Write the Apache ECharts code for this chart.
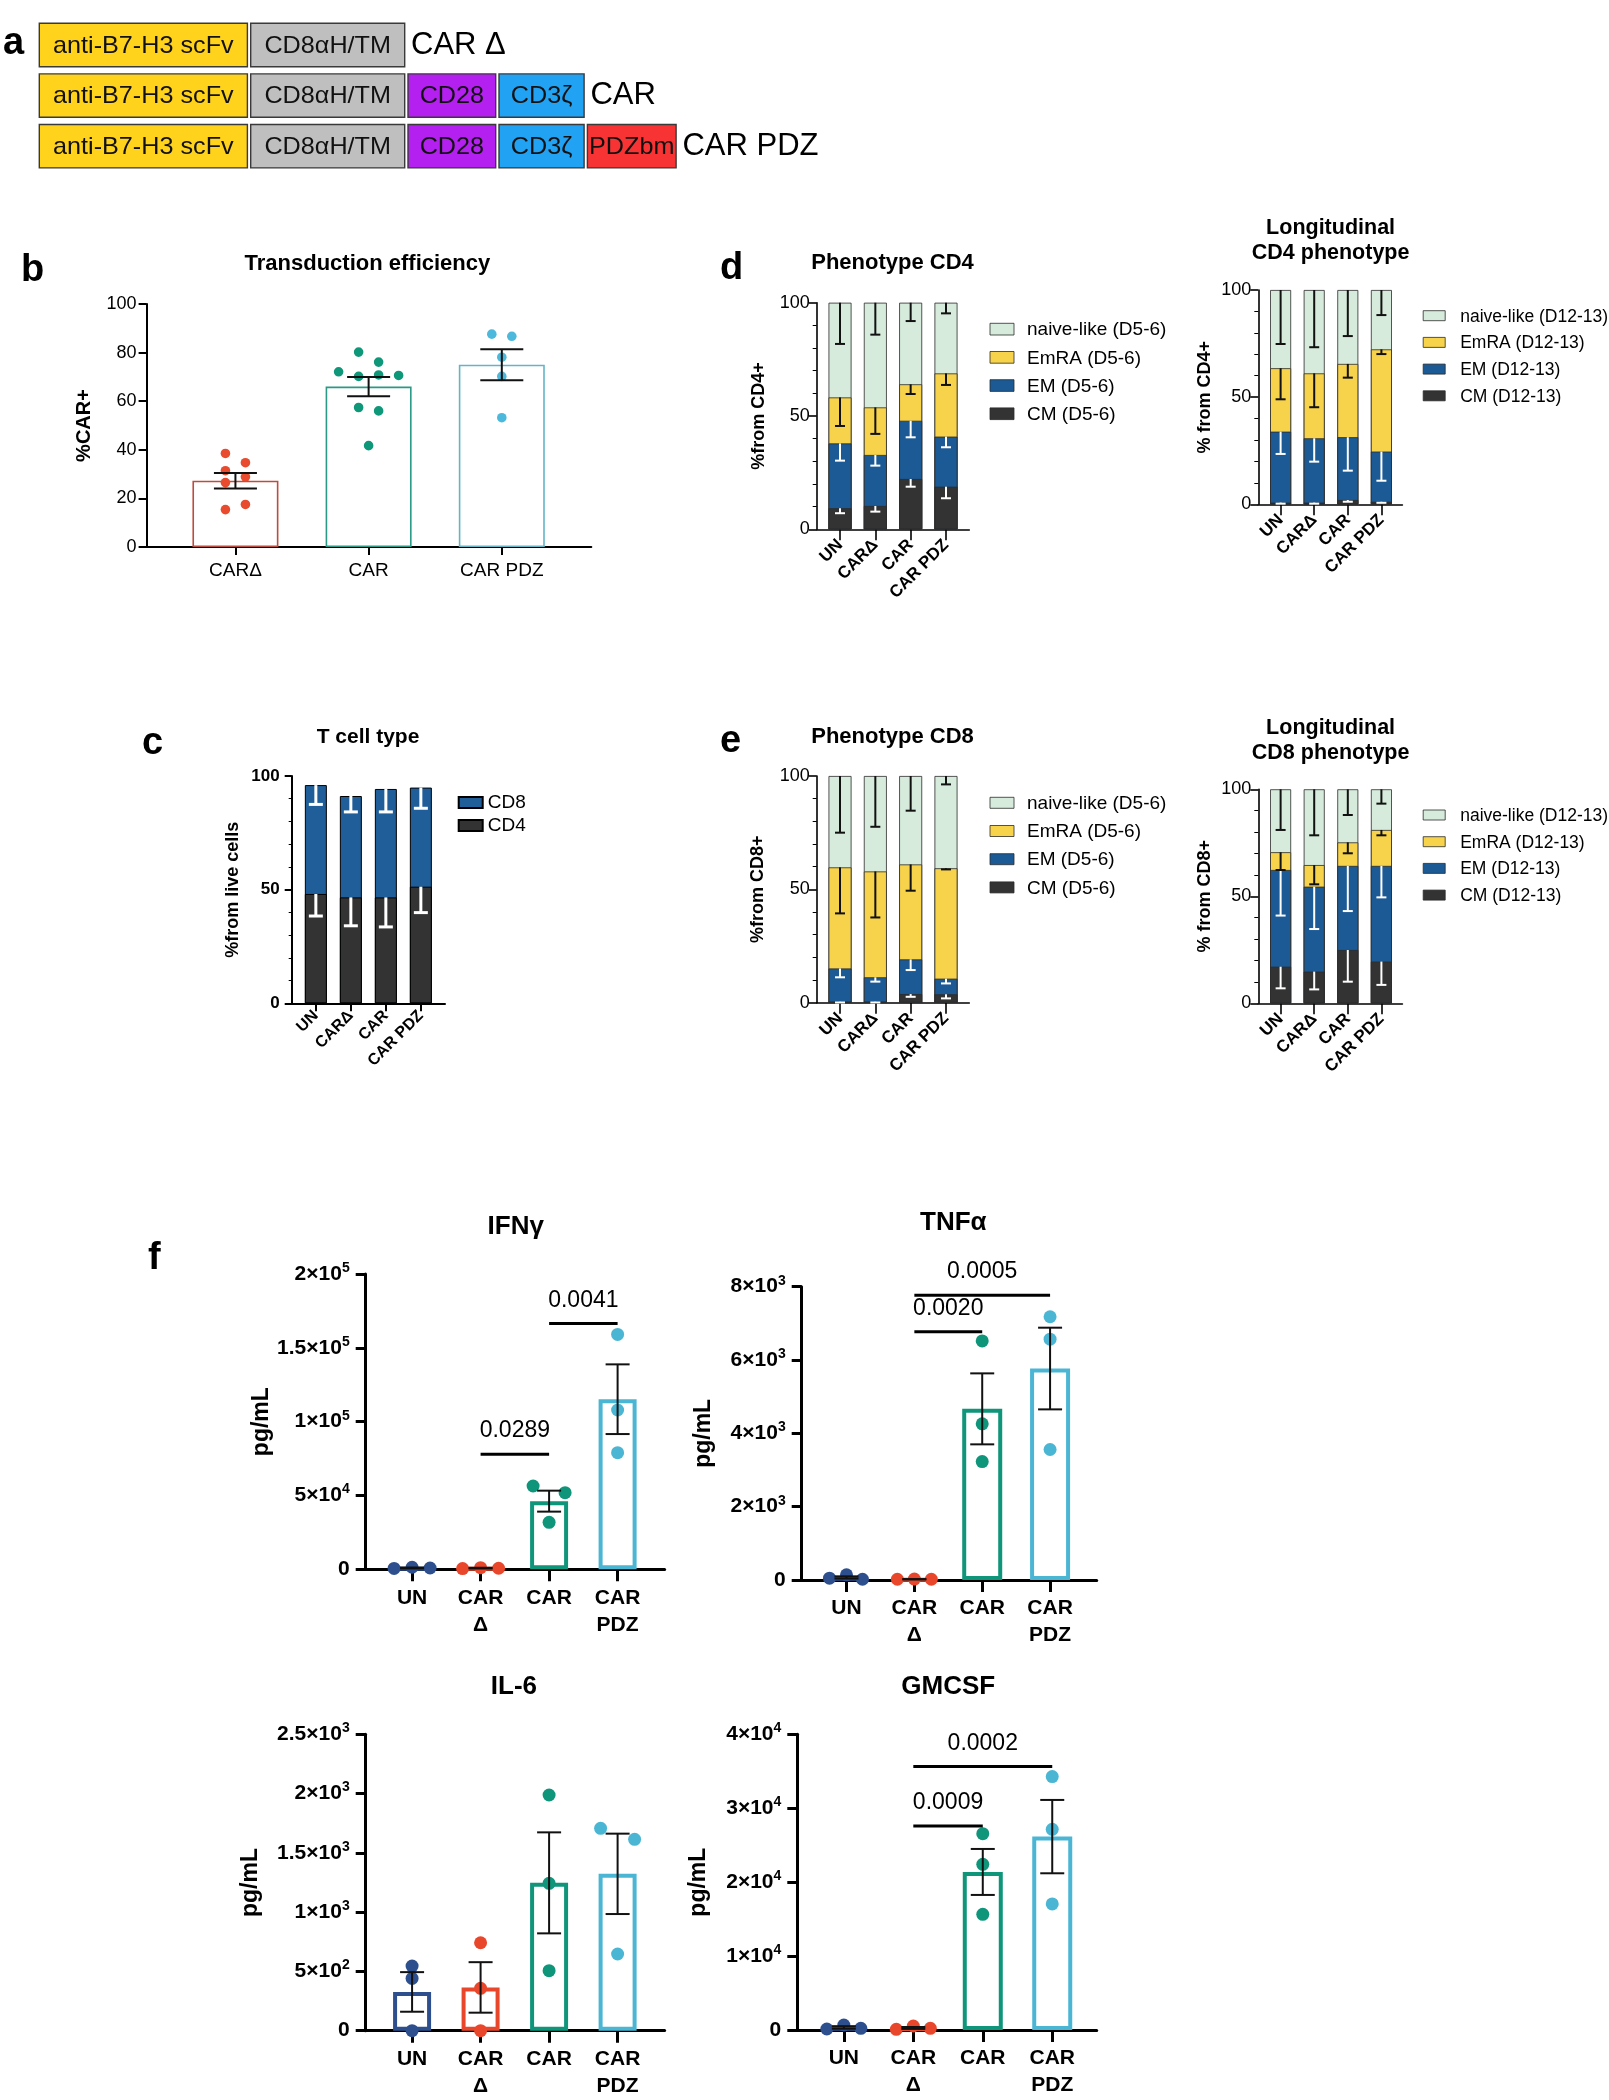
<!DOCTYPE html>
<html>
<head>
<meta charset="utf-8">
<title>B7-H3 CAR T cells</title>
<script src="https://cdn.jsdelivr.net/npm/echarts@6/dist/echarts.min.js"></script>
<style>
  html, body { margin: 0; padding: 0; background: #fff; }
  #main { width: 1609px; height: 2100px; }
</style>
</head>
<body>
<div id="main"></div>
<script>
// ---- a: construct schematic
const constructNames = ['CAR Δ', 'CAR', 'CAR PDZ']
const domainNames = ['anti-B7-H3 scFv', 'CD8αH/TM', 'CD28', 'CD3ζ', 'PDZbm']
const domainLengths = [211.4, 157.3, 91, 88.4, 92]
const domainsPerConstruct = [2, 4, 5]

// ---- b: transduction efficiency (%CAR+)
const catsB = ['CARΔ', 'CAR', 'CAR PDZ']
const meanB = [27.3, 66.0, 75.0]
const semB = [3.2, 4.0, 6.4]
const pointsB = [
  [38.5, 34.7, 31.4, 28.9, 26.5, 17.5, 15.4],
  [80.2, 76.1, 72.1, 70.2, 70.8, 70.6, 57.4, 56.0, 41.7],
  [87.6, 86.7, 78.1, 70.2, 53.2]
]
const jitterB = [
  [-10, 10, -10, 10, -10, 10, -10],
  [-10, 10, -30, -10, 10, 30, -10, 10, 0],
  [-10, 10, 0, 0, 0]
]

// ---- c: T cell type
const catsT = ['UN', 'CARΔ', 'CAR', 'CAR PDZ']
const cd4C = [48.1, 46.6, 46.6, 51.3]
const cd8C = [47.9, 44.6, 47.7, 43.6]
const cd4ErrC = [9.7, 12.5, 13.0, 11.4]
const cd8ErrC = [8.5, 7.0, 10.1, 9.1]

// ---- d/e: phenotypes, segments bottom->top: CM, EM, EmRA, naive-like
const cmD1 = [9.3, 10.3, 22.2, 18.8]
const emD1 = [28.6, 22.5, 25.7, 22.1]
const emraD1 = [20.3, 21.0, 16.1, 27.9]
const naiveD1 = [41.8, 46.2, 36.0, 31.2]
const errD1 = [[2.2, 2.5, 3.4, 5.1], [7.6, 4.7, 7.3, 4.7], [12.6, 11.7, 4.3, 5.1], [18.2, 14.1, 8.1, 4.7]]

const cmD2 = [0.8, 0.8, 2.0, 1.2]
const emD2 = [33.1, 30.0, 29.3, 23.4]
const emraD2 = [29.6, 30.3, 34.2, 47.7]
const naiveD2 = [36.5, 38.9, 34.5, 27.7]
const errD2 = [[0.5, 0.5, 0.8, 0.5], [10.4, 10.9, 15.6, 13.6], [14.5, 15.8, 6.4, 2.2], [25.2, 26.7, 21.5, 11.7]]

const cmE1 = [0.4, 0.4, 3.8, 3.7]
const emE1 = [14.7, 10.8, 15.3, 6.9]
const emraE1 = [44.6, 46.7, 41.9, 48.7]
const naiveE1 = [40.3, 42.1, 39.0, 40.7]
const errE1 = [[0.3, 0.3, 1.2, 1.8], [3.9, 1.9, 4.7, 2.1], [20.3, 20.3, 11.6, 0.5], [25.0, 22.4, 15.3, 3.7]]

const cmE2 = [17.1, 14.8, 24.9, 19.5]
const emE2 = [45.2, 39.7, 39.3, 44.7]
const emraE2 = [8.3, 10.1, 11.0, 16.8]
const naiveE2 = [29.4, 35.4, 24.8, 19.0]
const errE2 = [[10.1, 8.3, 14.8, 10.9], [21.3, 19.8, 21.1, 14.7], [8.3, 9.0, 5.1, 2.5], [19.0, 21.5, 12.0, 6.7]]

// ---- f: cytokines (pg/mL)
const catsF = ['UN', 'CAR\nΔ', 'CAR', 'CAR\nPDZ']

const meanIFN = [900, 800, 46160, 115200]
const semIFN = [300, 250, 7100, 23600]
const pointsIFN = [[600, 1400, 900], [500, 1100, 700], [56400, 51900, 31800], [159100, 107900, 79000]]
const jitterIFN = [[-18, 0, 18], [-18, 0, 18], [-16, 16, 0], [0, 0, 0]]
const sigIFN = [[1, 2, 78000], [2, 3, 166500]]
const sigLabelsIFN = ['0.0289', '0.0041']

const meanTNF = [70, 20, 4668, 5768]
const semTNF = [30, 5, 968, 1114]
const pointsTNF = [[50, 140, 20], [20, 25, 20], [6520, 4260, 3230], [7180, 6570, 3560]]
const jitterTNF = [[-17, 0, 16], [-17, 0, 17], [0, 0, 0], [0, 0, 0]]
const sigTNF = [[1, 2, 6770], [1, 3, 7770]]
const sigLabelsTNF = ['0.0020', '0.0005']

const meanIL6 = [327, 365, 1247, 1323]
const semIL6 = [167, 213, 426, 339]
const pointsIL6 = [[545, 441, 0], [742, 357, 0], [1988, 1243, 506], [1707, 1614, 647]]
const jitterIL6 = [[0, 0, 0], [0, 0, 0], [0, 0, 0], [-17, 17, 0]]

const meanGM = [350, 280, 21380, 26160]
const semGM = [170, 130, 3110, 4960]
const pointsGM = [[135, 680, 225], [90, 540, 225], [26560, 22410, 15650], [34280, 27150, 17050]]
const jitterGM = [[-17, 0, 17], [-17, 0, 17], [0, 0, 0], [0, 0, 0]]
const sigGM = [[1, 2, 27600], [1, 3, 35630]]
const sigLabelsGM = ['0.0009', '0.0002']

// ---- styles
const FONT = '"Liberation Sans", Arial, Helvetica, sans-serif'
const domainColors = ['#ffd21c', '#bfbfbf', '#b420f0', '#22a2f2', '#f73333']
const barLineB = ['#bf4a3e', '#2a9a86', '#63b5c6']
const dotB = ['#e84b2e', '#0f977a', '#4cb9dc']
const groupF = ['#2d4f8e', '#e9472c', '#0f957a', '#4ab6d4']
const phenoColors = ['#333333', '#1c5a95', '#f7d24b', '#d6ebdb']
const phenoErrColors = ['#fff', '#fff', '#111', '#111']

const grids = [], xAxes = [], yAxes = [], series = [], legends = [], texts = []

function panel(o) {
  const gi = grids.length
  const idx = o.cats.map((c, i) => i)
  const line = { color: '#000', width: o.lw }
  grids.push({ left: o.left, top: o.top, width: o.right - o.left, height: o.bottom - o.top })
  xAxes.push({
    type: 'value', gridIndex: gi, min: o.xMin, max: o.xMax,
    splitLine: { show: false },
    axisLine: { show: true, onZero: false, lineStyle: line },
    axisTick: { show: true, customValues: idx, length: o.xTick, lineStyle: line },
    axisLabel: Object.assign({
      customValues: idx, formatter: v => o.cats[Math.round(v)],
      rotate: o.rotate || 0, margin: o.xMargin, color: '#000'
    }, o.xLabel)
  })
  yAxes.push({
    type: 'value', gridIndex: gi, min: 0, max: o.yMax, interval: o.yInterval,
    splitLine: { show: false },
    axisLine: { show: true, onZero: false, lineStyle: line },
    axisTick: { show: true, length: o.yTick, lineStyle: line },
    minorTick: { show: !!o.minor, splitNumber: o.minor || 5, length: o.minorLen || 3, lineStyle: { color: '#000', width: 1 } },
    axisLabel: Object.assign({ margin: o.yMargin, color: '#000' }, o.yLabel),
    name: o.name, nameLocation: 'middle', nameRotate: 90, nameGap: o.nameGap,
    nameTextStyle: Object.assign({ color: '#000' }, o.nameStyle)
  })
  return gi
}

function errRender(color, lw, cap) {
  return function (params, api) {
    const x = api.value(0)
    const lo = api.coord([x, api.value(1)])
    const hi = api.coord([x, api.value(2)])
    const style = { stroke: color, lineWidth: lw }
    const kids = [
      { type: 'line', shape: { x1: lo[0], y1: lo[1], x2: hi[0], y2: hi[1] }, style },
      { type: 'line', shape: { x1: lo[0] - cap / 2, y1: lo[1], x2: lo[0] + cap / 2, y2: lo[1] }, style }
    ]
    if (api.value(3) === 1) {
      kids.push({ type: 'line', shape: { x1: hi[0] - cap / 2, y1: hi[1], x2: hi[0] + cap / 2, y2: hi[1] }, style })
    }
    return { type: 'group', children: kids }
  }
}

function dotRender(color, r) {
  return function (params, api) {
    const p = api.coord([api.value(0), api.value(1)])
    return { type: 'circle', shape: { cx: p[0] + api.value(2), cy: p[1], r: r }, style: { fill: color } }
  }
}

function sigRender(labels) {
  return function (params, api) {
    const a = api.coord([api.value(0), api.value(2)])
    const b = api.coord([api.value(1), api.value(2)])
    return {
      type: 'group', children: [
        { type: 'line', shape: { x1: a[0], y1: a[1], x2: b[0], y2: b[1] }, style: { stroke: '#000', lineWidth: 3 } },
        { type: 'text', x: (a[0] + b[0]) / 2, y: a[1] - 23,
          style: { text: labels[params.dataIndex], fill: '#000', fontSize: 23, fontFamily: FONT, align: 'center', verticalAlign: 'middle' } }
      ]
    }
  }
}

function custom(gi, renderItem, data, z) {
  series.push({
    type: 'custom', xAxisIndex: gi, yAxisIndex: gi, renderItem, data,
    encode: { x: 0, y: 1 }, clip: false, silent: true, z: z || 5
  })
}

function symErrData(mean, sem) {
  return mean.map((m, i) => [i, m - sem[i], m + sem[i], 1])
}

function label(text, x, y, size, weight, align, base) {
  texts.push({ type: 'text', x: x, y: y, silent: true,
    style: { text: text, fill: '#000', fontSize: size, fontWeight: weight, fontFamily: FONT,
      align: align || 'center', verticalAlign: base || 'middle' } })
}

// ---------- a
{
  const gi = grids.length
  grids.push({ left: 39.3, top: 19.7, width: 700, height: 151.8 })
  xAxes.push({ type: 'value', gridIndex: gi, min: 0, max: 700, show: false })
  yAxes.push({ type: 'category', gridIndex: gi, data: constructNames, inverse: true, show: false })
  series.push({
    type: 'custom', xAxisIndex: gi, yAxisIndex: gi, clip: false, silent: true,
    data: constructNames.map((n, i) => [0, i]), encode: { x: 0, y: 1 },
    renderItem: function (params, api) {
      const row = params.dataIndex
      const h = api.size([0, 1])[1] * 0.857
      const kids = []
      let start = 0, endPx = 0, cy = 0
      for (let k = 0; k < domainsPerConstruct[row]; k++) {
        const p0 = api.coord([start, row])
        const p1 = api.coord([start + domainLengths[k], row])
        const w = p1[0] - p0[0] - 3.3
        cy = p0[1]
        kids.push({ type: 'rect', shape: { x: p0[0], y: cy - h / 2, width: w, height: h },
          style: { fill: domainColors[k], stroke: '#3a3a3a', lineWidth: 1.4 } })
        kids.push({ type: 'text', x: p0[0] + w / 2, y: cy + 1, scaleX: 1.05,
          style: { text: domainNames[k], fill: '#111', fontSize: 24, fontFamily: FONT, align: 'center', verticalAlign: 'middle' } })
        start += domainLengths[k]
        endPx = p1[0]
      }
      kids.push({ type: 'text', x: endPx + 3, y: cy,
        style: { text: constructNames[row], fill: '#000', fontSize: 31, fontFamily: FONT, align: 'left', verticalAlign: 'middle' } })
      return { type: 'group', children: kids }
    }
  })
}

// ---------- b
{
  const gi = panel({
    left: 146.6, right: 591.3, top: 304, bottom: 547, xMin: -0.667, xMax: 2.672, cats: catsB,
    yMax: 100, yInterval: 20, lw: 2, xTick: 8, yTick: 8, xMargin: 14, yMargin: 10,
    xLabel: { fontSize: 19, fontFamily: FONT }, yLabel: { fontSize: 18, fontFamily: FONT },
    name: '%CAR+', nameGap: 52, nameStyle: { fontSize: 20, fontWeight: 'bold', fontFamily: FONT }
  })
  series.push({
    type: 'bar', xAxisIndex: gi, yAxisIndex: gi, barWidth: 86, silent: true, z: 2,
    data: meanB.map((v, i) => ({ value: [i, v], itemStyle: { borderColor: barLineB[i] } })),
    itemStyle: { color: '#fff', borderWidth: 1.6 }
  })
  pointsB.forEach((g, i) => custom(gi, dotRender(dotB[i], 4.8), g.map((v, k) => [i, v, jitterB[i][k]]), 4))
  custom(gi, errRender('#111', 2, 43), symErrData(meanB, semB), 6)
}

// stacked bars drawn as overlapping cumulative columns, top segment first
function stackedColumns(gi, segs, names, colors, barW, border) {
  const cum = []
  segs.forEach((seg, k) => cum.push(seg.map((v, i) => v + (k ? cum[k - 1][i] : 0))))
  for (let k = segs.length - 1; k >= 0; k--) {
    series.push({
      type: 'bar', name: names[k], xAxisIndex: gi, yAxisIndex: gi, barWidth: barW, barGap: '-100%', silent: true, z: 2,
      data: cum[k].map((v, i) => [i, v]),
      itemStyle: Object.assign({ color: colors[k] }, border)
    })
  }
  return cum
}

// ---------- c
{
  const gi = panel({
    left: 291.7, right: 445, top: 776, bottom: 1003.3, xMin: -0.69, xMax: 3.69, cats: catsT,
    yMax: 100, yInterval: 50, minor: 5, minorLen: 3, lw: 2, xTick: 8, yTick: 7, xMargin: 10, yMargin: 12, rotate: 45,
    xLabel: { fontSize: 16, fontWeight: 'bold', fontFamily: FONT },
    yLabel: { fontSize: 17, fontWeight: 'bold', fontFamily: FONT },
    name: '%from live cells', nameGap: 50, nameStyle: { fontSize: 18, fontWeight: 'bold', fontFamily: FONT }
  })
  const cum = stackedColumns(gi, [cd4C, cd8C], ['CD4', 'CD8'], ['#333333', '#1f5e98'], 22, { borderColor: '#000', borderWidth: 1 })
  custom(gi, errRender('#fff', 3, 14), cum[0].map((v, i) => [i, v - cd4ErrC[i], v, 0]))
  custom(gi, errRender('#fff', 3, 14), cum[1].map((v, i) => [i, v - cd8ErrC[i], v, 0]))
  legends.push({
    data: ['CD8', 'CD4'], orient: 'vertical', left: 452.7, top: 788, itemWidth: 24, itemHeight: 11, itemGap: 4,
    icon: 'rect', selectedMode: false, textStyle: { fontSize: 19, fontFamily: FONT, color: '#000' }
  })
}

// ---------- d / e
function phenoPanel(o, segs, errs, tag, leg) {
  const gi = panel(Object.assign({
    cats: catsT, yMax: 100, yInterval: 50, minor: 5, minorLen: 4, lw: 1.6, xTick: 11, yTick: 8,
    xMargin: 13, yMargin: 7, rotate: 45,
    xLabel: { fontSize: 17, fontWeight: 'bold', fontFamily: FONT },
    yLabel: { fontSize: 18, fontFamily: FONT },
    nameStyle: { fontSize: 18, fontWeight: 'bold', fontFamily: FONT }
  }, o))
  const names = ['CM (' + tag + ')', 'EM (' + tag + ')', 'EmRA (' + tag + ')', 'naive-like (' + tag + ')']
  const cum = stackedColumns(gi, segs, names, phenoColors, o.barW, { borderColor: '#2b2b2b', borderWidth: 0.8 })
  cum.forEach((top, k) => custom(gi, errRender(phenoErrColors[k], 2, 10), top.map((v, i) => [i, v - errs[k][i], v, 0])))
  // legend, top entry = top segment
  for (let k = 3; k >= 0; k--) {
    const y = leg.top + (3 - k) * leg.step
    texts.push({ type: 'rect', silent: true, shape: { x: leg.left, y: y, width: leg.w, height: leg.h },
      style: { fill: phenoColors[k], stroke: '#2b2b2b', lineWidth: 0.8 } })
    label(names[k], leg.left + leg.w + leg.gap, y + leg.h / 2 + 1, leg.font, 'normal', 'left')
  }
}

phenoPanel({ left: 816.7, right: 969.3, top: 302.7, bottom: 529.3, xMin: -0.66, xMax: 3.66, barW: 23, name: '%from CD4+', nameGap: 49 },
  [cmD1, emD1, emraD1, naiveD1], errD1, 'D5-6', { left: 990, top: 323.3, w: 24, h: 11.7, step: 28.2, gap: 13, font: 19 })
phenoPanel({ left: 1258.3, right: 1402.4, top: 290, bottom: 504.3, xMin: -0.664, xMax: 3.625, barW: 21, name: '% from CD4+', nameGap: 44 },
  [cmD2, emD2, emraD2, naiveD2], errD2, 'D12-13', { left: 1423.2, top: 310.7, w: 22, h: 10, step: 26.7, gap: 15, font: 17.5 })
phenoPanel({ left: 816.7, right: 969.3, top: 776, bottom: 1002.7, xMin: -0.66, xMax: 3.66, barW: 23, name: '%from CD8+', nameGap: 50 },
  [cmE1, emE1, emraE1, naiveE1], errE1, 'D5-6', { left: 990, top: 797.3, w: 24, h: 11, step: 28.2, gap: 13, font: 19 })
phenoPanel({ left: 1258.3, right: 1402.4, top: 789.3, bottom: 1003.3, xMin: -0.664, xMax: 3.625, barW: 21, name: '% from CD8+', nameGap: 44 },
  [cmE2, emE2, emraE2, naiveE2], errE2, 'D12-13', { left: 1423.2, top: 810, w: 22, h: 10, step: 26.7, gap: 15, font: 17.5 })

// ---------- f
function sciLabel(v) {
  if (v === 0) return '{b|0}'
  const e = Math.floor(Math.log10(v) + 1e-9)
  const m = +(v / Math.pow(10, e)).toFixed(2)
  return '{b|' + m + '×10}{s|' + e + '}'
}

function cytokinePanel(o, mean, sem, points, jitter, sig, sigLabels) {
  const gi = panel(Object.assign({
    cats: catsF, lw: 3, xTick: 12, yTick: 10, xMargin: 15, yMargin: 16,
    xLabel: { fontSize: 21, fontWeight: 'bold', fontFamily: FONT, lineHeight: 27 },
    yLabel: {
      formatter: sciLabel,
      rich: {
        b: { fontSize: 21, fontWeight: 'bold', fontFamily: FONT, color: '#000', lineHeight: 26 },
        s: { fontSize: 14, fontWeight: 'bold', fontFamily: FONT, color: '#000', verticalAlign: 'top', lineHeight: 26 }
      }
    },
    name: 'pg/mL', nameStyle: { fontSize: 23, fontWeight: 'bold', fontFamily: FONT }
  }, o))
  series.push({
    type: 'bar', xAxisIndex: gi, yAxisIndex: gi, barWidth: o.barW, silent: true, z: 2,
    data: mean.map((v, i) => ({ value: [i, v], itemStyle: { borderColor: groupF[i] } })),
    itemStyle: { color: '#fff', borderWidth: 4 }
  })
  points.forEach((g, i) => custom(gi, dotRender(groupF[i], 6.5), g.map((v, k) => [i, v, jitter[i][k]]), 4))
  custom(gi, errRender('#111', 2, 24), symErrData(mean, sem), 6)
  if (sig) custom(gi, sigRender(sigLabels), sig, 6)
}

cytokinePanel({ left: 365.7, right: 664.6, top: 1274, bottom: 1569.3, xMin: -0.677, xMax: 3.686, yMax: 200000, yInterval: 50000, barW: 38, nameGap: 86 },
  meanIFN, semIFN, pointsIFN, jitterIFN, sigIFN, sigLabelsIFN)
cytokinePanel({ left: 801.7, right: 1096.7, top: 1286.7, bottom: 1580, xMin: -0.66, xMax: 3.687, yMax: 8000, yInterval: 2000, barW: 40, nameGap: 87 },
  meanTNF, semTNF, pointsTNF, jitterTNF, sigTNF, sigLabelsTNF)
cytokinePanel({ left: 365.7, right: 664.6, top: 1734.3, bottom: 2030.7, xMin: -0.677, xMax: 3.686, yMax: 2500, yInterval: 500, barW: 38, nameGap: 104 },
  meanIL6, semIL6, pointsIL6, jitterIL6, null, null)
cytokinePanel({ left: 797.3, right: 1096.7, top: 1734.3, bottom: 2030, xMin: -0.67, xMax: 3.64, yMax: 40000, yInterval: 10000, barW: 40, nameGap: 87.5 },
  meanGM, semGM, pointsGM, jitterGM, sigGM, sigLabelsGM);

// ---------- titles and panel letters
const panelLetters = [['a', 3, 25], ['b', 21, 252], ['c', 142, 725], ['d', 720, 250], ['e', 720, 723], ['f', 148, 1240]]
panelLetters.forEach(l => label(l[0], l[1], l[2], 38, 'bold', 'left', 'alphabetic'))

label('Transduction efficiency', 367.4, 264, 22, 'bold')
label('T cell type', 368, 737, 21, 'bold')
label('Phenotype CD4', 892.5, 263.3, 22, 'bold')
label('Longitudinal', 1330.6, 228.3, 21.5, 'bold')
label('CD4 phenotype', 1330.6, 252.7, 21.5, 'bold')
label('Phenotype CD8', 892.5, 736.7, 22, 'bold')
label('Longitudinal', 1330.6, 728.3, 21.5, 'bold')
label('CD8 phenotype', 1330.6, 752.7, 21.5, 'bold')
label('IFNγ', 515.7, 1227, 26, 'bold')
label('TNFα', 953.3, 1223, 26, 'bold')
label('IL-6', 513.9, 1687, 26, 'bold')
label('GMCSF', 948.3, 1687, 26, 'bold')

const chart = echarts.init(document.getElementById('main'), null, { renderer: 'canvas' })
chart.setOption({
  animation: false,
  backgroundColor: '#fff',
  textStyle: { fontFamily: FONT },
  grid: grids,
  xAxis: xAxes,
  yAxis: yAxes,
  legend: legends,
  graphic: { elements: texts },
  series: series
})
</script>
</body>
</html>
